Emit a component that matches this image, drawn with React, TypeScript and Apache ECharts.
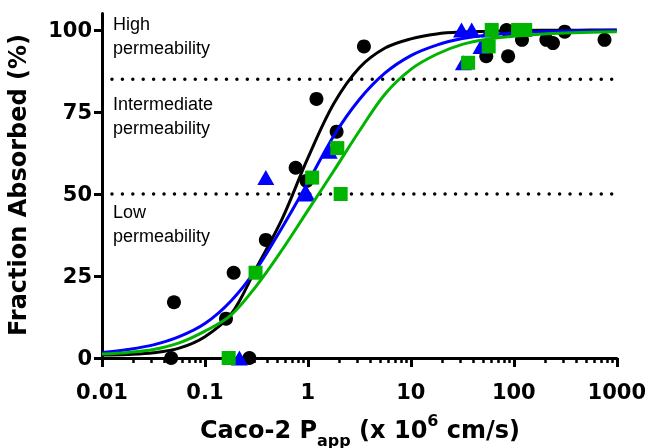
import React, { useEffect, useRef } from 'react';
import * as echarts from 'echarts';

// Scatter data [Papp (x10^6 cm/s), Fraction absorbed (%)]
const blackCircles: [number, number][] = [
  [0.047, 0], [0.05, 17], [0.16, 12], [0.19, 26], [0.27, 0], [0.39, 36],
  [0.76, 58], [0.97, 54], [1.21, 79], [1.9, 69], [3.5, 95], [54, 92],
  [85, 100], [88, 92], [120, 97], [207, 97], [240, 96], [312, 99.5], [760, 97],
];
const blueTriangles: [number, number][] = [
  [0.216, 0], [0.39, 55], [0.98, 50], [1.61, 63], [31, 100], [32.4, 90],
  [39, 100], [48, 95], [58, 100],
];
const greenSquares: [number, number][] = [
  [0.17, 0], [0.31, 26], [1.1, 55], [1.93, 64], [2.08, 50], [36, 90],
  [57, 95], [61, 100], [110, 100], [129, 100],
];

const curveX = [
  0.01, 0.0178, 0.0316, 0.0562, 0.1, 0.178, 0.316, 0.562, 1, 1.78, 3.16,
  5.62, 10, 17.8, 31.6, 56.2, 100, 178, 316, 562, 1000,
];
const blackCurveY = [
  0.9, 1.1, 1.6, 3.0, 6.5, 13.2, 27.5, 42.4, 61, 77.5, 88.5,
  94.5, 97.3, 98.8, 99.4, 99.6, 99.8, 99.9, 99.9, 100, 100,
];
const blueCurveY = [
  1.7, 2.6, 4.0, 6.5, 10.5, 17.3, 27.1, 39.8, 53.5, 67.7, 78.8,
  86.9, 92.2, 95.4, 97.4, 98.5, 99.1, 99.5, 99.7, 99.8, 99.9,
];
const greenCurveY = [
  1.2, 1.7, 2.6, 4.6, 8.2, 13, 22, 33, 45, 57, 69.2,
  80.5, 88, 92.6, 95.6, 97.2, 98.1, 98.7, 99.1, 99.3, 99.5,
];

const thresholdLines = [85, 50];
const yTickValues = [0, 25, 50, 75, 100];
const xTickValues = [0.01, 0.1, 1, 10, 100, 1000];
const xTickLabels = ['0.01', '0.1', '1', '10', '100', '1000'];
const minorMantissas = [2, 3, 4, 5, 6, 7, 8, 9];
const minorDecades = [0.01, 0.1, 1, 10, 100];

const BLACK = '#000000';
const BLUE = '#0000ff';
const GREEN = '#00b400';
const BOLD_FONT = '"DejaVu Sans", sans-serif';
const REG_FONT = '"Liberation Sans", Arial, sans-serif';

const zip = (xs: number[], ys: number[]) => xs.map((x, i) => [x, ys[i]]);

export default function App() {
  const ref = useRef<HTMLDivElement>(null);
  useEffect(() => {
    if (!ref.current) return;
    const chart = echarts.init(ref.current, null, { renderer: 'svg' });
    const minorTicks: number[] = [];
    minorDecades.forEach((d) => minorMantissas.forEach((m) => minorTicks.push(Number((d * m).toPrecision(3)))));

    const xLabelFmt = (v: number) => {
      let best = 0;
      xTickValues.forEach((t, i) => {
        if (Math.abs(Math.log10(v) - Math.log10(t)) < Math.abs(Math.log10(v) - Math.log10(xTickValues[best]))) best = i;
      });
      return xTickLabels[best];
    };

    const curve = (data: number[][], color: string, z: number) => ({
      type: 'line',
      data,
      showSymbol: false,
      symbol: 'none',
      smooth: 0.35,
      lineStyle: { color, width: 3 },
      z,
      silent: true,
    });
    const scatter = (data: number[][], symbol: string, size: any, color: string, z: number) => ({
      type: 'scatter',
      data,
      symbol,
      symbolSize: size,
      itemStyle: { color, opacity: 1 },
      clip: false,
      z,
    });

    chart.setOption({
      animation: false,
      textStyle: { fontFamily: BOLD_FONT },
      grid: { left: 102, right: 30, top: 13.6, bottom: 90, containLabel: false },
      xAxis: [
        {
          type: 'log',
          logBase: 10,
          min: 0.01,
          max: 1000,
          position: 'bottom',
          axisLine: { onZero: false, lineStyle: { color: BLACK, width: 3 } },
          axisTick: { show: true, length: 9, lineStyle: { color: BLACK, width: 3 }, customValues: xTickValues },
          axisLabel: {
            customValues: xTickValues,
            formatter: xLabelFmt,
            margin: 23,
            color: BLACK,
            fontSize: 21,
            fontWeight: 'bold',
            fontFamily: BOLD_FONT,
          },
          splitLine: { show: false },
          minorTick: { show: false },
        },
        {
          type: 'log',
          logBase: 10,
          min: 0.01,
          max: 1000,
          position: 'bottom',
          axisLine: { show: false, onZero: false },
          axisTick: { show: true, length: 5, lineStyle: { color: BLACK, width: 2.5 }, customValues: minorTicks },
          axisLabel: { show: false },
          splitLine: { show: false },
        },
      ],
      yAxis: {
        type: 'value',
        min: 0,
        max: 105,
        axisLine: { show: true, onZero: false, lineStyle: { color: BLACK, width: 3 } },
        axisTick: { show: true, length: 8, lineStyle: { color: BLACK, width: 3 }, customValues: yTickValues },
        axisLabel: {
          customValues: yTickValues,
          margin: 10,
          color: BLACK,
          fontSize: 21,
          fontWeight: 'bold',
          fontFamily: BOLD_FONT,
        },
        splitLine: { show: false },
      },
      series: [
        ...thresholdLines.map((v) => ({
          type: 'line',
          data: [[0.0125, v], [1000, v]],
          symbol: 'none',
          lineStyle: { color: BLACK, width: 3.5, type: [0.01, 10.4], cap: 'round' },
          z: 1,
          silent: true,
        })),
        scatter(blackCircles, 'circle', 14, BLACK, 2),
        curve(zip(curveX, blackCurveY), BLACK, 3),
        scatter(blueTriangles, 'triangle', [17, 15], BLUE, 4),
        curve(zip(curveX, blueCurveY), BLUE, 5),
        scatter(greenSquares, 'rect', 14, GREEN, 6),
        curve(zip(curveX, greenCurveY), GREEN, 7),
      ],
      graphic: [
        {
          type: 'text',
          left: 113,
          top: 12,
          style: { text: 'High\npermeability', fontSize: 18, lineHeight: 24, fontFamily: REG_FONT, fill: BLACK },
        },
        {
          type: 'text',
          left: 113,
          top: 92,
          style: { text: 'Intermediate\npermeability', fontSize: 18, lineHeight: 24, fontFamily: REG_FONT, fill: BLACK },
        },
        {
          type: 'text',
          left: 113,
          top: 200,
          style: { text: 'Low\npermeability', fontSize: 18, lineHeight: 24, fontFamily: REG_FONT, fill: BLACK },
        },
        {
          type: 'text',
          x: 18,
          y: 185,
          rotation: Math.PI / 2,
          style: {
            text: 'Fraction Absorbed (%)',
            fontSize: 24,
            fontWeight: 'bold',
            fontFamily: BOLD_FONT,
            fill: BLACK,
            align: 'center',
            verticalAlign: 'middle',
          },
        },
        {
          type: 'text',
          x: 360,
          y: 430,
          style: {
            text: '{a|Caco-2 P}{sub|app}{a| (x 10}{sup|6}{a| cm/s)}',
            align: 'center',
            verticalAlign: 'middle',
            fill: BLACK,
            rich: {
              a: { fontSize: 24, fontWeight: 'bold', fontFamily: BOLD_FONT, lineHeight: 36, verticalAlign: 'middle', fill: BLACK },
              sub: { fontSize: 16, fontWeight: 'bold', fontFamily: BOLD_FONT, lineHeight: 16, verticalAlign: 'bottom', fill: BLACK },
              sup: { fontSize: 16, fontWeight: 'bold', fontFamily: BOLD_FONT, lineHeight: 16, verticalAlign: 'top', fill: BLACK },
            },
          },
        },
      ],
    });
    return () => chart.dispose();
  }, []);
  return <div ref={ref} style={{ position: 'fixed', left: 0, top: 0, width: 649, height: 448 }} />;
}
